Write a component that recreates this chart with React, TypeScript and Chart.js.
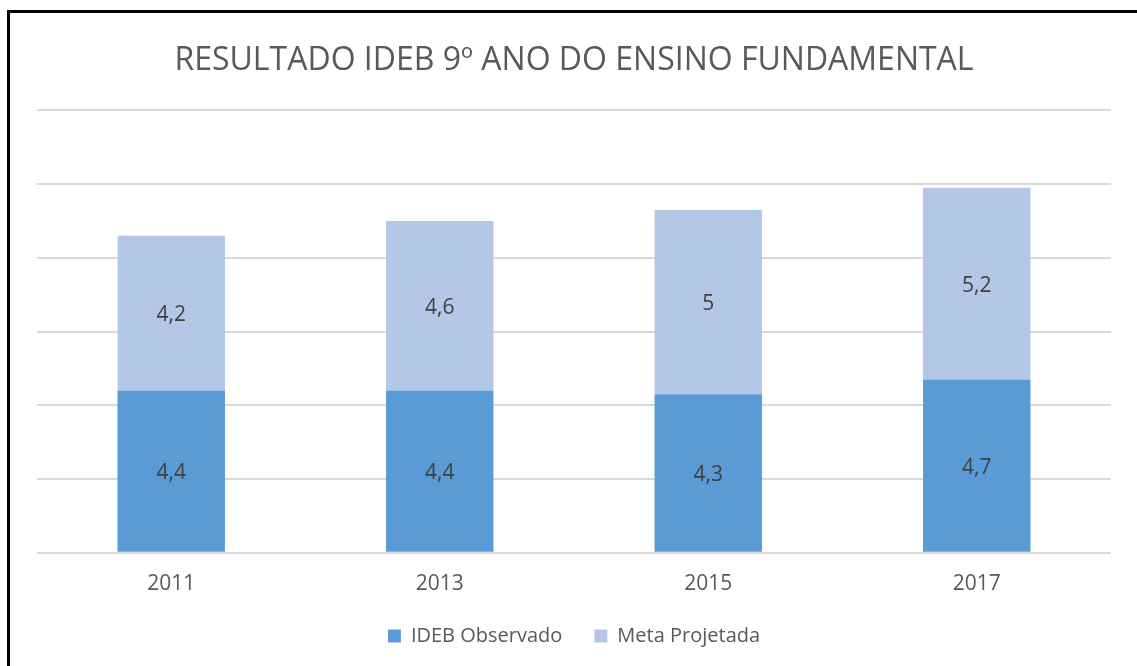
import React, { useEffect, useRef } from "react";
import { Chart, registerables } from "chart.js";

Chart.register(...registerables);

const categories = ["2011", "2013", "2015", "2017"];
const idebObservado = [4.4, 4.4, 4.3, 4.7];
const metaProjetada = [4.2, 4.6, 5, 5.2];
const seriesNames = ["IDEB Observado", "Meta Projetada"];
const titleText = "RESULTADO IDEB 9º ANO DO ENSINO FUNDAMENTAL";

const FONT = "'Open Sans', 'Noto Sans', sans-serif";

const valueLabels = {
  id: "valueLabels",
  afterDatasetsDraw(chart: any) {
    const ctx = chart.ctx;
    ctx.save();
    ctx.font = `21px ${FONT}`;
    ctx.fillStyle = "#404040";
    ctx.textAlign = "center";
    ctx.textBaseline = "middle";
    chart.data.datasets.forEach((ds: any, i: number) => {
      const meta = chart.getDatasetMeta(i);
      meta.data.forEach((bar: any, j: number) => {
        const v = ds.data[j];
        const cy = (bar.y + bar.base) / 2 + 2;
        ctx.fillText(String(v).replace(".", ","), bar.x, cy);
      });
    });
    ctx.restore();
  },
};

export default function App() {
  const ref = useRef<HTMLCanvasElement>(null);
  useEffect(() => {
    if (!ref.current) return;
    const chart = new Chart(ref.current, {
      type: "bar",
      data: {
        labels: categories,
        datasets: [
          {
            label: seriesNames[0],
            data: idebObservado,
            backgroundColor: "#5b9bd5",
            barPercentage: 0.4,
            categoryPercentage: 1,
          },
          {
            label: seriesNames[1],
            data: metaProjetada,
            backgroundColor: "#b4c7e7",
            barPercentage: 0.4,
            categoryPercentage: 1,
          },
        ],
      },
      options: {
        responsive: false,
        animation: false,
        layout: { padding: { left: 37, right: 26, top: 42, bottom: 10 } },
        plugins: {
          title: {
            display: true,
            text: titleText,
            color: "#595959",
            font: { family: FONT, size: 32, weight: "normal" },
            padding: { top: 0, bottom: 30 },
          },
          legend: {
            position: "bottom",
            labels: {
              color: "#595959",
              font: { family: FONT, size: 20 },
              boxWidth: 13,
              boxHeight: 13,
              padding: 32,
            },
          },
          tooltip: { enabled: false },
        },
        scales: {
          x: {
            stacked: true,
            grid: { display: false },
            border: { display: false },
            ticks: { color: "#595959", font: { family: FONT, size: 21 }, padding: 11 },
            afterFit: (scale: any) => {
              scale.height -= 14;
            },
          },
          y: {
            stacked: true,
            min: 0,
            max: 12,
            ticks: { display: false, stepSize: 2 },
            grid: { color: "#d9d9d9", lineWidth: 2, drawTicks: false },
            border: { display: false },
          },
        },
      },
      plugins: [valueLabels],
    });
    return () => chart.destroy();
  }, []);
  return (
    <div style={{ position: "fixed", left: 0, top: 0, width: 1137, height: 666, overflow: "hidden", background: "#fff" }}>
      <canvas ref={ref} width={1137} height={666} style={{ position: "absolute", left: 0, top: 0 }} />
      <div
        style={{
          position: "absolute",
          left: 7,
          top: 10,
          width: 1200,
          height: 700,
          borderLeft: "3px solid #000",
          borderTop: "3px solid #000",
          pointerEvents: "none",
        }}
      />
    </div>
  );
}
